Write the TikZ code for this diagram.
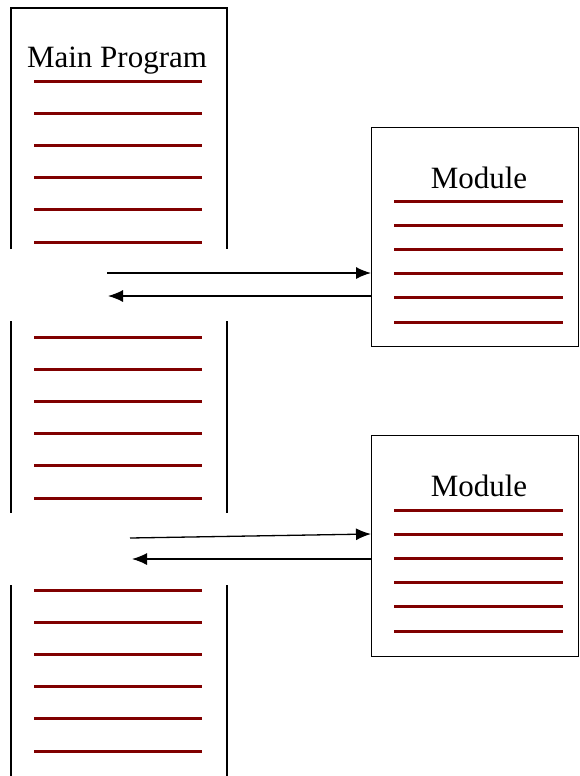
\documentclass[tikz,border=0pt]{standalone}
\usepackage{fontspec}
\setmainfont{Liberation Serif}
\usetikzlibrary{arrows.meta}
\usetikzlibrary{positioning}
\definecolor{codered}{RGB}{128, 0, 0}

\tikzset{
  frame/.style={draw=black, line width=1.4pt},
  codeline/.style={draw=codered, line width=3pt},
  call/.style={-{Latex[length=15pt, width=12pt]}, line width=1.3pt},
  title/.style={font=\fontsize{31}{37}\selectfont, anchor=base, inner sep=0pt},
}

\begin{document}
\begin{tikzpicture}[x=1pt, y=-1pt]
  \useasboundingbox (0,0) rectangle (579,776);
  % Main program, open at the two calls
  \draw[frame] (11,249) -- (11,8) -- (227,8) -- (227,249);
  \draw[frame] (11,321) -- (11,513)  (227,321) -- (227,513);
  \draw[frame] (11,585) -- (11,776)  (227,585) -- (227,776);
  \node[title] (maintitle) at (117,67) {Main Program};
  \foreach \top in {81,337,590}
    \foreach \i in {0,...,5}
      \draw[codeline] (34,\top+32.2*\i) -- (202,\top+32.2*\i);
  % Modules
  \node[frame, anchor=north west, inner sep=0pt, minimum width=207pt, minimum height=219pt] (modA) at (371,127) {};
  \node[frame, anchor=north west, inner sep=0pt, minimum width=207pt, minimum height=221pt] (modB) at (371,435) {};
  \node[title] (modAtitle) at (479,188) {Module};
  \node[title] (modBtitle) at (479,496) {Module};
  \foreach \i in {0,...,5} {
    \draw[codeline] (394,201+24.2*\i) -- (563,201+24.2*\i);
    \draw[codeline] (394,510+24.2*\i) -- (563,510+24.2*\i);
  }
  % Calls and returns
  \coordinate (callA) at (107,273);
  \coordinate (retA) at (108,296);
  \coordinate (callB) at (130,538);
  \coordinate (retB) at (132,559);
  \draw[call] (callA) -- (modA.west |- callA);
  \draw[call] (modA.west |- retA) -- (retA);
  \draw[call] (callB) -- (modB.west |- 0,534);
  \draw[call] (modB.west |- retB) -- (retB);
\end{tikzpicture}
\end{document}
